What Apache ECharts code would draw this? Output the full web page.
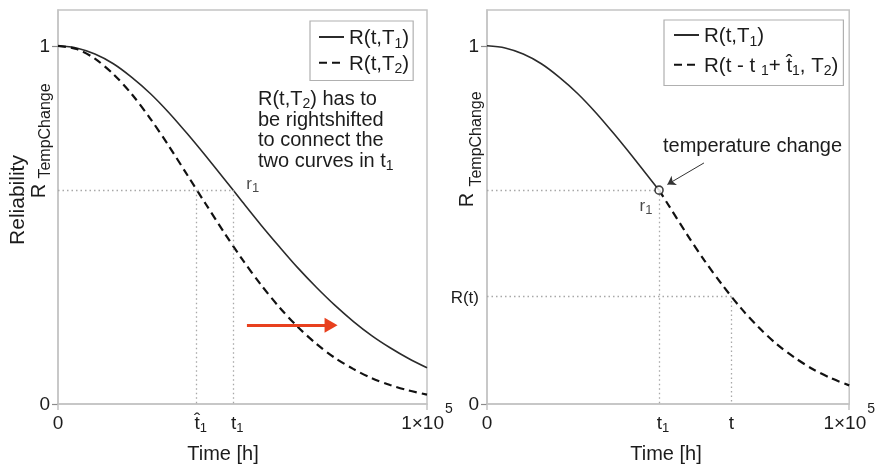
<!DOCTYPE html>
<html>
<head>
<meta charset="utf-8">
<script src="https://cdn.jsdelivr.net/npm/echarts@6/dist/echarts.min.js"></script>
<style>
  html, body { margin: 0; padding: 0; background: #fff; }
  #chart { width: 878px; height: 467px; }
</style>
</head>
<body>
<div id="chart"></div>
<script>
// Operating time in hours, sampled every 5000 h
const timeH = [0, 5000, 10000, 15000, 20000, 25000, 30000, 35000, 40000, 45000, 50000,
               55000, 60000, 65000, 70000, 75000, 80000, 85000, 90000, 95000, 100000];
// Reliability at temperature T1
const relT1 = [1.000, 0.994, 0.977, 0.950, 0.912, 0.867, 0.814, 0.755, 0.693, 0.629, 0.564,
               0.500, 0.439, 0.380, 0.326, 0.276, 0.231, 0.191, 0.157, 0.127, 0.101];
// Reliability at temperature T2
const relT2 = [1.000, 0.991, 0.964, 0.921, 0.865, 0.797, 0.721, 0.640, 0.559, 0.479, 0.403,
               0.333, 0.270, 0.215, 0.168, 0.129, 0.098, 0.072, 0.053, 0.038, 0.026];

// Temperature change point
const t1 = 47500;      // time of the change
const tHat1 = 37600;   // equivalent time on the T2 curve
const r1 = 0.597;      // reliability reached at t1
// A later evaluation time and its reliability
const tLater = 67500;
const rLater = 0.30;

// Combined curve: T1 up to t1, then the shifted T2 curve
const timeBefore = [0, 5000, 10000, 15000, 20000, 25000, 30000, 35000, 40000, 45000, 47500];
const relBefore  = [1.000, 0.994, 0.977, 0.950, 0.912, 0.867, 0.814, 0.755, 0.693, 0.629, 0.597];
const timeAfter  = [47500, 50000, 55000, 60000, 65000, 70000, 75000, 80000, 85000, 90000, 95000, 100000];
const relAfter   = [0.597, 0.557, 0.477, 0.401, 0.332, 0.269, 0.214, 0.167, 0.129, 0.097, 0.072, 0.052];

// Axis tick positions
const yTicks = [0, 1];
const xEnds = [0, 100000];

// Annotation anchors (data space)
const shiftArrow = [[51200, 0.22], [74000, 0.22]];
const changeArrow = [[59900, 0.673], [49800, 0.613]];

const FONT = '"Liberation Sans", Arial, Helvetica, sans-serif';
const INK = '#1c1c1c';
const FRAME = '#c4c4c4';
const GUIDE = '#a8a8a8';

// Rich-text styles: main text sits on the line bottom, subscripts hang below it
function textRich(fs, subFs, lineH, drop, color) {
  const fill = color || INK;
  return {
    m:  { fontFamily: FONT, fontSize: fs, color: fill, lineHeight: lineH, verticalAlign: 'bottom' },
    s:  { fontFamily: FONT, fontSize: subFs, color: fill, lineHeight: 1, verticalAlign: 'top',
          padding: [lineH - fs / 2 + drop - subFs / 2, 0, 0, 0] }
  };
}

const axisRich = Object.assign(textRich(19, 13, 20, 5), {
  tp: { fontFamily: FONT, fontSize: 19, color: INK, lineHeight: 20, verticalAlign: 'bottom', padding: [0, 0, 0, 8] },
  p:  { fontFamily: FONT, fontSize: 14, color: INK, lineHeight: 31, verticalAlign: 'top', padding: [0, 0, 0, 1] },
  rt: { fontFamily: FONT, fontSize: 17, color: INK, lineHeight: 20, verticalAlign: 'bottom' }
});

const near = (a, b) => Math.abs(a - b) < 1e-6 * Math.max(1, Math.abs(b));

function xLabelLeft(v) {
  if (near(v, 0)) return '{m|0}';
  if (near(v, tHat1)) return '{tp|t\u0302}{s|1}';
  if (near(v, t1)) return '{tp|t}{s|1}';
  return '{m|1\u00d710}{p|5}';
}
function xLabelRight(v) {
  if (near(v, 0)) return '{m|0}';
  if (near(v, t1)) return '{tp|t}{s|1}';
  if (near(v, tLater)) return '{m|t}';
  return '{m|1\u00d710}{p|5}';
}
function yLabel(v) {
  if (near(v, 0)) return '{m|0}';
  if (near(v, 1)) return '{m|1}';
  return '{rt|R(t)}';
}

function xAxisCfg(gridIndex, values, fmt) {
  return {
    type: 'value', gridIndex, min: 0, max: 100000,
    axisLine: { show: true, lineStyle: { color: FRAME, width: 1.5 } },
    axisTick: { show: true, customValues: xEnds, length: 6, lineStyle: { color: FRAME, width: 1.5 } },
    splitLine: { show: false },
    axisLabel: { customValues: values, formatter: fmt, rich: axisRich, margin: 29, verticalAlign: 'bottom' }
  };
}
function yAxisCfg(gridIndex, values) {
  return {
    type: 'value', gridIndex, min: 0, max: 1.1,
    axisLine: { show: true, lineStyle: { color: FRAME, width: 1.5 } },
    axisTick: { show: true, customValues: yTicks, length: 6, lineStyle: { color: '#8a8a8a', width: 1.2 } },
    splitLine: { show: false },
    axisLabel: { customValues: values, formatter: yLabel, rich: axisRich, margin: 8 }
  };
}

const dotted = { color: GUIDE, width: 1.3, type: [1.5, 3] };
const guideLine = (a, b) => [{ coord: a }, { coord: b }];

const legendText = {
  'R(t,T1)': '{m|R(t,T}{s|1}{m|)}',
  'R(t,T2)': '{m|R(t,T}{s|2}{m|)}',
  'shifted': '{m|R(t - t }{s|1}{m|+ t\u0302}{s|1}{m|, T}{s|2}{m|)}'
};
const legendBase = {
  orient: 'vertical', itemWidth: 25, itemHeight: 14, itemTextGap: 10,
  borderColor: '#b0b0b0', borderWidth: 1.2, borderRadius: 0, backgroundColor: '#fff',
  formatter: n => legendText[n], textStyle: { rich: textRich(20.5, 14, 24, 5) },
  itemStyle: { opacity: 0 },
  selectedMode: false
};

const solidStyle = { color: '#2b2b2b', width: 1.6 };
const dashStyle = { color: '#111', width: 2.2, type: [8, 5] };
const pointRich = textRich(17, 13, 18, 4);

const textEl = (x, y, text, size, extra, align) => Object.assign({
  type: 'text', x, y, silent: true,
  style: { text, fontFamily: FONT, fontSize: size, fill: INK, align: align || 'center', verticalAlign: 'middle' }
}, extra || {});

const noteRich = textRich(20, 14, 20.5, 5);
noteRich.m.fill = INK; noteRich.s.fill = INK;

const chart = echarts.init(document.getElementById('chart'), null, { renderer: 'canvas' });
chart.setOption({
  animation: false,
  backgroundColor: '#fff',
  grid: [
    { left: 58, top: 10, width: 369, height: 394, show: true, borderColor: FRAME, borderWidth: 1.5 },
    { left: 487, top: 10, width: 369, height: 394, show: true, borderColor: FRAME, borderWidth: 1.5 }
  ],
  xAxis: [
    xAxisCfg(0, [0, tHat1, t1, 100000], xLabelLeft),
    xAxisCfg(1, [0, t1, tLater, 100000], xLabelRight)
  ],
  yAxis: [
    yAxisCfg(0, [0, 1]),
    yAxisCfg(1, [0, rLater, 1])
  ],
  legend: [
    Object.assign({}, legendBase, { left: 310, top: 21, padding: [4, 4, 4, 8], itemGap: 0,
      data: ['R(t,T1)', 'R(t,T2)'] }),
    Object.assign({}, legendBase, { left: 664, top: 20, padding: [3, 5, 7, 9], itemGap: 4,
      data: ['R(t,T1)', 'shifted'] })
  ],
  series: [
    {
      name: 'R(t,T1)', type: 'line', xAxisIndex: 0, yAxisIndex: 0,
      data: timeH.map((t, i) => [t, relT1[i]]),
      smooth: 0.3, symbol: 'none', lineStyle: solidStyle, itemStyle: { color: '#2b2b2b' }, z: 3,
      markLine: {
        silent: true, symbol: ['none', 'none'], label: { show: false }, lineStyle: dotted,
        data: [
          guideLine([0, r1], [t1, r1]),
          guideLine([tHat1, r1], [tHat1, 0]),
          guideLine([t1, r1], [t1, 0])
        ]
      }
    },
    {
      name: 'R(t,T2)', type: 'line', xAxisIndex: 0, yAxisIndex: 0,
      data: timeH.map((t, i) => [t, relT2[i]]),
      smooth: 0.3, symbol: 'none', lineStyle: dashStyle, itemStyle: { color: '#111' }, z: 3,
      markLine: {
        silent: true, symbol: ['none', 'triangle'], symbolSize: [15, 13],
        label: { show: false },
        lineStyle: { color: '#e8401e', width: 3, type: 'solid' },
        itemStyle: { color: '#e8401e' },
        data: [[{ coord: shiftArrow[0] }, { coord: shiftArrow[1] }]]
      }
    },
    {
      name: 'r1 left', type: 'scatter', xAxisIndex: 0, yAxisIndex: 0,
      data: [[t1, r1]], symbolSize: 0, silent: true,
      label: { show: true, position: 'right', offset: [8, -6], formatter: '{m|r}{s|1}', rich: pointRich }
    },
    {
      name: 'R(t,T1)', type: 'line', xAxisIndex: 1, yAxisIndex: 1,
      data: timeBefore.map((t, i) => [t, relBefore[i]]),
      smooth: 0.3, symbol: 'none', lineStyle: solidStyle, itemStyle: { color: '#2b2b2b' }, z: 3,
      markLine: {
        silent: true, symbol: ['none', 'none'], label: { show: false }, lineStyle: dotted,
        data: [
          guideLine([0, r1], [t1, r1]),
          guideLine([t1, r1], [t1, 0]),
          guideLine([0, rLater], [tLater, rLater]),
          guideLine([tLater, rLater], [tLater, 0])
        ]
      }
    },
    {
      name: 'shifted', type: 'line', xAxisIndex: 1, yAxisIndex: 1,
      data: timeAfter.map((t, i) => [t, relAfter[i]]),
      smooth: 0.3, symbol: 'none', lineStyle: dashStyle, itemStyle: { color: '#111' }, z: 3,
      markLine: {
        silent: true, symbol: ['none', 'arrow'], symbolSize: 8,
        label: { show: false },
        lineStyle: { color: '#333', width: 1, type: 'solid' },
        data: [[{ coord: changeArrow[0] }, { coord: changeArrow[1] }]]
      }
    },
    {
      name: 'change point', type: 'scatter', xAxisIndex: 1, yAxisIndex: 1,
      data: [[t1, r1]], symbol: 'circle', symbolSize: 8, z: 5, silent: true,
      itemStyle: { color: '#fff', borderColor: '#111', borderWidth: 1.6 },
      label: { show: true, position: 'bottom', offset: [-13, -3], formatter: '{m|r}{s|1}', rich: pointRich }
    }
  ],
  graphic: [
    textEl(18, 200, 'Reliability', 21, { rotation: Math.PI / 2 }),
    textEl(39, 191, 'R', 20, { rotation: Math.PI / 2 }),
    textEl(46, 131, 'TempChange', 16, { rotation: Math.PI / 2 }),
    textEl(467, 200, 'R', 20, { rotation: Math.PI / 2 }),
    textEl(477, 139, 'TempChange', 16, { rotation: Math.PI / 2 }),
    textEl(223, 454, 'Time [h]', 20),
    textEl(666, 454, 'Time [h]', 20),
    textEl(663, 146, 'temperature change', 20, {}, 'left'),
    {
      type: 'text', left: 258, top: 89, silent: true,
      style: {
        text: '{m|R(t,T}{s|2}{m|) has to}\n{m|be rightshifted}\n{m|to connect the}\n{m|two curves in t}{s|1}',
        rich: noteRich
      }
    }
  ]
});
</script>
</body>
</html>
